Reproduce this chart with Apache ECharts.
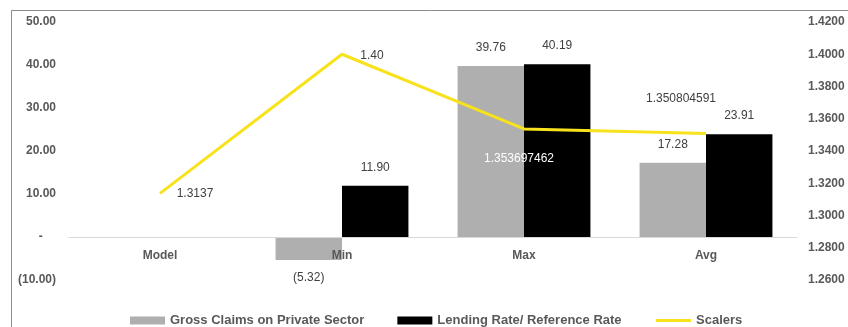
<!DOCTYPE html>
<html>
<head>
<meta charset="utf-8">
<script src="https://cdn.jsdelivr.net/npm/echarts@6/dist/echarts.min.js"></script>
<style>html,body{margin:0;padding:0;background:#fff;}#c{width:848px;height:327px;}</style>
</head>
<body>
<div id="c"></div>
<script>
var categories = ['Model', 'Min', 'Max', 'Avg'];
var grossClaims = [null, -5.32, 39.76, 17.28];
var lendingRate = [null, 11.90, 40.19, 23.91];
var scalers = [1.3137, 1.40, 1.353697462, 1.350804591];
var scalerLabels = ['1.3137', '1.40', '1.353697462', '1.350804591'];
var seriesNames = ['Gross Claims on Private Sector', 'Lending Rate/ Reference Rate', 'Scalers'];

var FONT = '"Liberation Sans", Arial, sans-serif';
function acct(v) {
  if (v === 0) return '-    ';
  if (v < 0) return '(' + Math.abs(v).toFixed(2) + ')';
  return v.toFixed(2);
}

var scalerOffsets = [[35, 0], [30, 1], [-5, 30], [-25, -35]];
var scalerColors = ['#404040', '#404040', '#ffffff', '#404040'];
var YELLOW = '#f7e21b';

var chart = echarts.init(document.getElementById('c'), null, {renderer: 'canvas'});
chart.setOption({
  animation: false,
  backgroundColor: '#ffffff',
  graphic: [{
    type: 'rect', silent: true, z: -10,
    shape: {x: 11.5, y: 10.5, width: 900, height: 400},
    style: {fill: 'none', stroke: '#8c8c8c', lineWidth: 1}
  }],
  grid: {left: 69, right: 51, top: 22, bottom: 47},
  legend: {
    left: 125, top: 309,
    itemGap: 33, itemWidth: 35, itemHeight: 8,
    textStyle: {fontFamily: FONT, fontSize: 13, fontWeight: 'bold', color: '#595959'},
    data: [
      {name: seriesNames[0], icon: 'rect'},
      {name: seriesNames[1], icon: 'rect'},
      {name: seriesNames[2], itemStyle: {color: 'rgba(0,0,0,0)', borderWidth: 0, opacity: 0},
       lineStyle: {color: YELLOW, width: 3}}
    ]
  },
  xAxis: {
    type: 'category', data: categories, z: 5,
    offset: -43,
    axisLine: {onZero: false, lineStyle: {color: '#d9d9d9', width: 1}},
    axisTick: {show: false},
    axisLabel: {margin: 13, fontFamily: FONT, fontSize: 12, fontWeight: 'bold', color: '#595959'}
  },
  yAxis: [{
    type: 'value', min: -10, max: 50, interval: 10,
    splitLine: {show: false}, axisLine: {show: false}, axisTick: {show: false},
    axisLabel: {margin: 13, fontFamily: FONT, fontSize: 12, fontWeight: 'bold', color: '#595959', formatter: acct}
  }, {
    type: 'value', min: 1.26, max: 1.42, interval: 0.02, position: 'right',
    splitLine: {show: false}, axisLine: {show: false}, axisTick: {show: false},
    axisLabel: {margin: 11, fontFamily: FONT, fontSize: 12, fontWeight: 'bold', color: '#595959', align: 'left',
      formatter: function (v) { return v.toFixed(4); }}
  }],
  series: [{
    name: seriesNames[0], type: 'bar', barGap: '0%', barCategoryGap: '27%',
    itemStyle: {color: '#afafaf'},
    data: grossClaims.map(function (v) {
      return {value: v, label: {position: v < 0 ? 'bottom' : 'top'}};
    }),
    label: {show: true, distance: 12, fontFamily: FONT, fontSize: 12, color: '#404040',
      formatter: function (p) { return acct(p.value); }}
  }, {
    name: seriesNames[1], type: 'bar',
    itemStyle: {color: '#000000'},
    data: lendingRate,
    label: {show: true, position: 'top', distance: 12, fontFamily: FONT, fontSize: 12, color: '#404040',
      formatter: function (p) { return acct(p.value); }}
  }, {
    name: seriesNames[2], type: 'line', yAxisIndex: 1, z: 4,
    symbol: 'circle', symbolSize: 0.01, showSymbol: true,
    lineStyle: {color: YELLOW, width: 3},
    itemStyle: {color: YELLOW},
    data: scalers.map(function (v, i) {
      return {value: v, label: {offset: scalerOffsets[i], color: scalerColors[i]}};
    }),
    label: {show: true, position: 'inside', fontFamily: FONT, fontSize: 12,
      formatter: function (p) { return scalerLabels[p.dataIndex]; }}
  }]
});
</script>
</body>
</html>
